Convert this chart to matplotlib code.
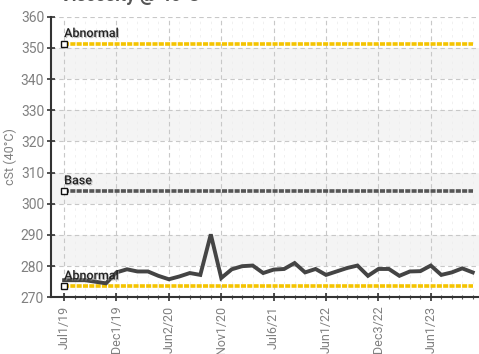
import numpy as np
import matplotlib
matplotlib.use("Agg")
import matplotlib.pyplot as plt
from matplotlib.ticker import MultipleLocator
import matplotlib.patheffects as pe

# viscosity samples, one per oil analysis
viscosity = [275.5, 275.5, 275.5, 275.0, 274.5, 278.0, 279.0, 278.3, 278.3, 276.9,
             275.8, 276.7, 277.8, 277.2, 290.2, 276.2, 279.0, 280.0, 280.2, 277.8,
             278.9, 279.1, 281.0, 278.0, 279.1, 277.2, 278.3, 279.4, 280.2, 276.9,
             279.1, 279.1, 276.9, 278.3, 278.4, 280.2, 277.2, 278.0, 279.3, 278.0]
tick_labels = ["Jul1/19", "Dec1/19", "Jun2/20", "Nov1/20",
               "Jul6/21", "Jun1/22", "Dec3/22", "Jun1/23"]
abnormal_high = 351.2
base = 304.0
abnormal_low = 273.5

plt.rcParams["font.family"] = ["Roboto", "DejaVu Sans"]

fig = plt.figure(figsize=(4.79, 3.54), dpi=100)
ax = fig.add_axes([0.1065, 0.160, 0.8935, 0.793])

n = len(viscosity)
x = np.arange(n)

# alternating bands
for lo in range(280, 360, 20):
    ax.axhspan(lo, lo + 10, color="#f4f4f4", zorder=0, lw=0)

ax.set_ylim(270, 360)
ax.set_xlim(-1.25, 39.6)
ax.yaxis.set_major_locator(MultipleLocator(10))
ax.set_xticks(np.arange(0, n, 5))
ax.set_xticklabels(tick_labels, rotation=90)
ax.set_xticks(x, minor=True)

ax.grid(True, which="major", color="#c8c8c8", ls=(0, (4, 3)), lw=0.8)
ax.grid(True, which="minor", axis="x", color="#eeeeee", ls=(0, (3, 5)), lw=0.6)
ax.set_axisbelow(True)

for s in ("top", "right"):
    ax.spines[s].set_visible(False)
for s in ("left", "bottom"):
    ax.spines[s].set_color("#333333")
    ax.spines[s].set_linewidth(1.5)

ax.tick_params(axis="both", which="major", direction="inout", length=6,
               width=1.2, color="#333333", labelcolor="#808080")
ax.tick_params(axis="y", which="major", labelsize=10, pad=2)
ax.tick_params(axis="x", which="major", labelsize=9, pad=3)
ax.tick_params(axis="x", which="minor", direction="inout", length=3,
               width=0.8, color="#555555")
ax.set_ylabel("cSt (40°C)", color="#808080", fontsize=9, labelpad=3)

# limit lines
limits = [(abnormal_high, "#f5c400", "Abnormal"),
          (base, "#555555", "Base"),
          (abnormal_low, "#f5c400", "Abnormal")]
for val, col, name in limits:
    ax.plot([0, n - 1], [val, val], color=col, lw=2.6, ls=(0, (1.4, 0.35)),
            zorder=3, solid_capstyle="butt")
    ax.plot([0], [val], marker="s", ms=4.5, mfc="white", mec="#111111",
            mew=1.0, zorder=5, clip_on=False)
    ax.text(0.0, val + 1.3, name, fontsize=9, color="#222222", zorder=6,
            ha="left", va="bottom", fontweight="medium",
            path_effects=[pe.withSimplePatchShadow(offset=(0.8, -0.8),
                                                   shadow_rgbFace="#999999",
                                                   alpha=0.6)])

ax.plot(x, viscosity, color="#444444", lw=2.8, zorder=4,
        solid_joinstyle="miter")

fig.text(0.125, 0.998, "Viscosity @ 40°C", fontsize=13, fontweight="bold",
         color="#555555", ha="left", va="baseline")

fig.savefig("out.png", dpi=100)
